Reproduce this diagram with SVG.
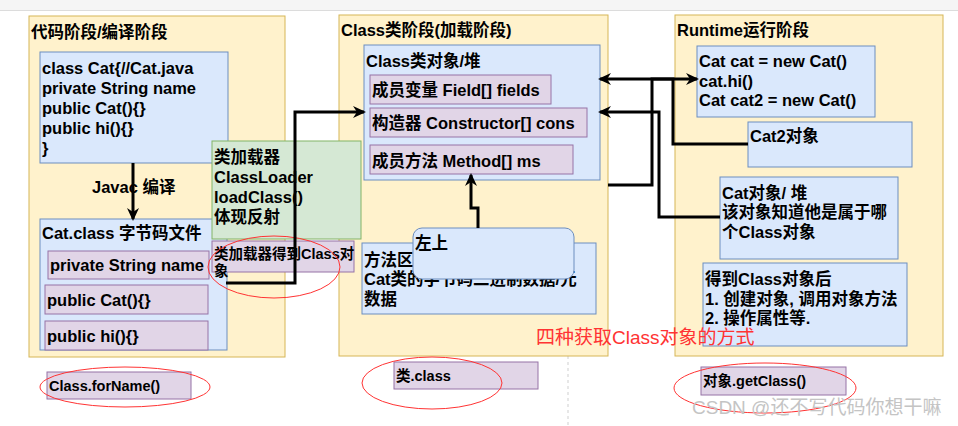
<svg xmlns="http://www.w3.org/2000/svg" width="958" height="426" viewBox="0 0 958 426">
<style>
text{font-family:"Liberation Sans","Noto Sans CJK SC",sans-serif;font-weight:bold;fill:#000;dominant-baseline:central}
.t{font-size:16.5px}
.s{font-size:14.5px}
.panel{fill:#fff2cc;stroke:#d6b656;stroke-width:1}
.blue{fill:#dae8fc;stroke:#6c8ebf;stroke-width:1}
.green{fill:#d5e8d4;stroke:#82b366;stroke-width:1}
.purple{fill:#e1d5e7;stroke:#9673a6;stroke-width:1}
.oval{fill:none;stroke:#ff3333;stroke-width:1}
.conn{fill:none;stroke:#000;stroke-width:3;marker-end:url(#arr)}
.red{font-weight:normal;font-size:19px;fill:#ff3333}
.wm{font-weight:normal;font-size:19px;fill:#c4c4c4}
</style>
<defs>
<marker id="arr" viewBox="0 0 13 12" refX="11" refY="6" markerWidth="13" markerHeight="12" markerUnits="userSpaceOnUse" orient="auto">
<path d="M0,0 L13,6 L0,12 L4,6 Z" fill="#000"/>
</marker>
</defs>
<rect x="0" y="0" width="958" height="426" fill="#fff"/>
<rect x="0" y="0" width="958" height="10" fill="#f5f5f5"/>
<line x1="0" y1="10.5" x2="958" y2="10.5" stroke="#dcdcdc"/>
<line x1="568" y1="356" x2="568" y2="426" stroke="#cfcfcf" stroke-dasharray="3,3"/>

<g id="panel-code">
<rect class="panel" x="29" y="16" width="256" height="341"/>
<text class="t" x="31" y="32">代码阶段/编译阶段</text>
</g>
<g id="panel-class">
<rect class="panel" x="339" y="15" width="269" height="341"/>
<text class="t" x="341" y="30">Class类阶段(加载阶段)</text>
</g>
<g id="panel-runtime">
<rect class="panel" x="675" y="15" width="268" height="341"/>
<text class="t" x="677" y="30">Runtime运行阶段</text>
</g>

<g id="cat-java">
<rect class="blue" x="40" y="52" width="188" height="111"/>
<text class="t" x="42" y="68">class Cat{//Cat.java</text>
<text class="t" x="42" y="88">private String name</text>
<text class="t" x="42" y="108">public Cat(){}</text>
<text class="t" x="42" y="128">public hi(){}</text>
<text class="t" x="42" y="148">}</text>
</g>

<g id="cat-class">
<rect class="blue" x="40" y="219" width="187" height="131"/>
<text class="t" x="42" y="233">Cat.class 字节码文件</text>
</g>
<g id="cc-field">
<rect class="purple" x="48" y="251" width="161" height="28"/>
<text class="t" x="50" y="265">private String name</text>
</g>
<g id="cc-cons">
<rect class="purple" x="45" y="285" width="163" height="29"/>
<text class="t" x="47" y="300">public Cat(){}</text>
</g>
<g id="cc-hi">
<rect class="purple" x="45" y="321" width="163" height="29"/>
<text class="t" x="47" y="336">public hi(){}</text>
</g>

<g id="classloader">
<rect class="green" x="212" y="141" width="149" height="98"/>
<text class="t" x="214" y="157">类加载器</text>
<text class="t" x="214" y="177">ClassLoader</text>
<text class="t" x="214" y="197">loadClass()</text>
<text class="t" x="214" y="217">体现反射</text>
</g>
<g id="loader-gets">
<rect class="purple" x="212" y="241" width="142" height="31"/>
<text class="s" x="214" y="254">类加载器得到Class对</text>
<text class="s" x="214" y="271">象</text>
<ellipse class="oval" cx="274" cy="267" rx="66" ry="31"/>
</g>

<g id="class-obj">
<rect class="blue" x="364" y="45" width="236" height="135"/>
<text class="t" x="366" y="61">Class类对象/堆</text>
</g>
<g id="co-field">
<rect class="purple" x="370" y="75" width="181" height="29"/>
<text class="t" x="372" y="90">成员变量 Field[] fields</text>
</g>
<g id="co-cons">
<rect class="purple" x="370" y="108" width="217" height="29"/>
<text class="t" x="372" y="123">构造器 Constructor[] cons</text>
</g>
<g id="co-method">
<rect class="purple" x="370" y="145" width="203" height="29"/>
<text class="t" x="372" y="161">成员方法 Method[] ms</text>
</g>

<g id="method-area">
<rect class="blue" x="362" y="243" width="234" height="71"/>
<text class="t" x="364" y="260">方法区</text>
<text class="t" x="364" y="279">Cat类的字节码二进制数据/元</text>
<text class="t" x="364" y="299">数据</text>
</g>
<g id="zuoshang">
<rect class="blue" x="413" y="228" width="161" height="51" rx="9"/>
<text class="t" x="415" y="243">左上</text>
</g>

<g id="runtime-code">
<rect class="blue" x="697" y="46" width="178" height="71"/>
<text class="t" x="699" y="61">Cat cat = new Cat()</text>
<text class="t" x="699" y="81">cat.hi()</text>
<text class="t" x="699" y="100">Cat cat2 = new Cat()</text>
</g>
<g id="cat2-obj">
<rect class="blue" x="748" y="122" width="164" height="45"/>
<text class="t" x="750" y="136">Cat2对象</text>
</g>
<g id="cat-obj">
<rect class="blue" x="720" y="177" width="178" height="82"/>
<text class="t" x="722" y="193">Cat对象/ 堆</text>
<text class="t" x="722" y="212">该对象知道他是属于哪</text>
<text class="t" x="722" y="232">个Class对象</text>
</g>
<g id="after-class">
<rect class="blue" x="703" y="263" width="204" height="83"/>
<text class="t" x="705" y="279">得到Class对象后</text>
<text class="t" x="705" y="299">1. 创建对象, 调用对象方法</text>
<text class="t" x="705" y="318">2. 操作属性等.</text>
</g>

<g id="forname">
<rect class="purple" x="47" y="372" width="144" height="27"/>
<text class="s" x="49" y="386">Class.forName()</text>
<ellipse class="oval" cx="125" cy="387" rx="85" ry="20"/>
</g>
<g id="dotclass">
<rect class="purple" x="394" y="362" width="144" height="27"/>
<text class="s" x="396" y="376">类.class</text>
<ellipse class="oval" cx="432" cy="383" rx="70" ry="26"/>
</g>
<g id="getclass">
<rect class="purple" x="701" y="367" width="145" height="28"/>
<text class="s" x="703" y="381">对象.getClass()</text>
<ellipse class="oval" cx="765" cy="388" rx="91" ry="25"/>
</g>

<g id="label-four">
<text class="red" x="536" y="337">四种获取Class对象的方式</text>
</g>

<g id="connectors">
<text class="t" x="92" y="187">Javac 编译</text>
<path class="conn" d="M133,163 V219"/>
<path class="conn" d="M226,283 H295 V112 H364"/>
<path class="conn" d="M478,228 V208 H471 V175"/>
<path class="conn" d="M748,144 H673 V79 H600"/>
<path class="conn" d="M608,185 H652 V79 H697"/>
<path class="conn" d="M720,217 H659 V112 H600"/>
</g>

<text class="wm" x="692" y="407">CSDN @还不写代码你想干嘛</text>
</svg>
